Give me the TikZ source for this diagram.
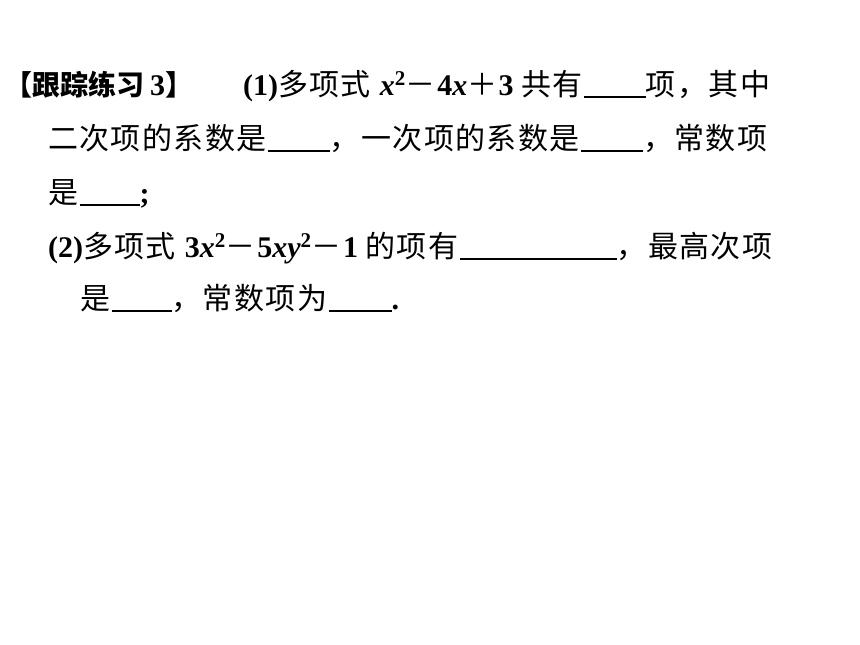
\documentclass[tikz,border=0pt]{standalone}
\usepackage{fontspec}
\setmainfont{Liberation Serif}
\newfontfamily\cjkfont{Noto Sans CJK SC}
\newlength\cjgap
\setlength\cjgap{1.4pt}
\def\spc#1{\ifx#1\relax\else#1\kern\cjgap\expandafter\spc\fi}
\newcommand{\cj}[1]{{\mdseries\cjkfont\spc#1\relax}}
\newcommand{\cjb}[1]{{\cjkfont\fontsize{28}{28}\selectfont\bfseries\setlength\cjgap{0pt}\spc#1\relax}}
\newcommand{\bl}[1]{\rule[-3pt]{#1}{1.6pt}}
\begin{document}
\begin{tikzpicture}[x=1pt,y=1pt]
\tikzset{txtline/.style={anchor=base west, inner sep=0pt, font=\fontsize{30}{30}\selectfont\bfseries}}
\fill[white] (0,0) rectangle (860,-645);
\useasboundingbox (0,0) rectangle (860,-645);
\node[txtline] (h) at (4,-95) {\cjb{【跟踪练习}\kern6pt 3\cjb{】}};
\node[txtline] (l1) at (243,-95) {(1)\cj{多项式}\ \textit{x}\textsuperscript{2}\cj{－}4\textit{x}\cj{＋}3\ \cj{共有}\bl{62pt}\cj{项，其中}};
\node[txtline] (l2) at (48,-149) {\cj{二次项的系数是}\bl{62pt}\cj{，一次项的系数是}\bl{62pt}\cj{，常数项}};
\node[txtline] (l3) at (48,-203) {\cj{是}\bl{60pt};};
\node[txtline] (l4) at (48,-257) {(2)\cj{多项式}\ 3\textit{x}\textsuperscript{2}\cj{－}5\textit{xy}\textsuperscript{2}\cj{－}1\ \cj{的项有}\bl{157pt}\cj{，最高次项}};
\node[txtline] (l5) at (80,-309) {\cj{是}\bl{60pt}\cj{，常数项为}\bl{63pt}.};
\end{tikzpicture}
\end{document}
